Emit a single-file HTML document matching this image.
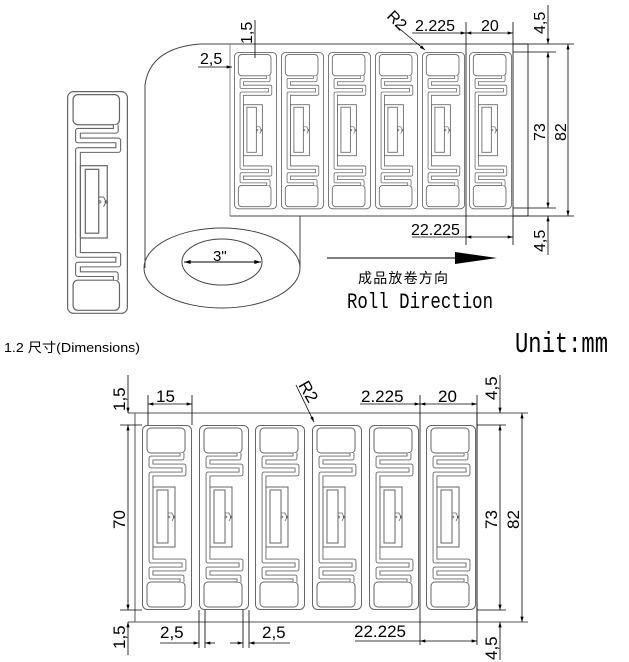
<!DOCTYPE html>
<html><head><meta charset="utf-8"><style>html,body{margin:0;padding:0;background:#fff}svg{display:block}</style></head>
<body>
<svg width="629" height="662" viewBox="0 0 629 662" xmlns="http://www.w3.org/2000/svg" font-family="Liberation Sans, sans-serif">
<defs>
<g id="lab">
  <rect x="0.5" y="0.5" width="49" height="184" rx="5" fill="none" stroke="#666" stroke-width="1"/>
  <rect x="5" y="3" width="38" height="25" rx="4" fill="none" stroke="#666" stroke-width="1"/>
  <rect x="5" y="157" width="38" height="25" rx="4" fill="none" stroke="#666" stroke-width="1"/>
  <path d="M40,28 V33 H9 V41 H42 V49 H9 V136 H42 V144 H9 V152 H40 V157" fill="none" stroke="#666" stroke-width="4.8" stroke-linejoin="round"/>
  <path d="M40,28 V33 H9 V41 H42 V49 H9 V136 H42 V144 H9 V152 H40 V157" fill="none" stroke="#fff" stroke-width="3" stroke-linejoin="round"/>
  <rect x="11" y="62" width="22" height="60" fill="#fff" stroke="#666" stroke-width="1"/>
  <rect x="15" y="65" width="11" height="53" fill="none" stroke="#666" stroke-width="1"/>
  <path d="M26,88 L30,88 L32,92 L30,96" fill="none" stroke="#666" stroke-width="0.8"/>
  <circle cx="27" cy="92" r="0.9" fill="none" stroke="#555" stroke-width="0.6"/>
  <circle cx="32" cy="92" r="0.9" fill="none" stroke="#555" stroke-width="0.6"/>
</g>
<marker id="a" viewBox="0 0 10 6" refX="10" refY="3" markerWidth="8" markerHeight="4" orient="auto-start-reverse"><path d="M0,0 L10,3 L0,6z" fill="#000"/></marker>
</defs>

<use href="#lab" transform="translate(67,91) scale(1.22,1.205)"/>

<g fill="none" stroke="#444" stroke-width="1">
  <path d="M145,268 V85 Q150,48 200,44 H528"/>
  <line x1="230" y1="216" x2="528" y2="216"/>
  <line x1="300" y1="216" x2="300" y2="268"/>
  <ellipse cx="222" cy="268" rx="78" ry="40"/>
  <ellipse cx="222" cy="262" rx="40" ry="23"/>
  <line x1="230" y1="44" x2="230" y2="216" stroke="#888"/>
</g>
<line x1="184" y1="262" x2="261" y2="262" stroke="#000" marker-start="url(#a)" marker-end="url(#a)"/>
<text x="213" y="261" font-size="15">3"</text>

<use href="#lab" transform="translate(234,52) scale(0.86,0.85)"/>
<use href="#lab" transform="translate(281,52) scale(0.86,0.85)"/>
<use href="#lab" transform="translate(328,52) scale(0.86,0.85)"/>
<use href="#lab" transform="translate(375,52) scale(0.86,0.85)"/>
<use href="#lab" transform="translate(422,52) scale(0.86,0.85)"/>
<use href="#lab" transform="translate(469,52) scale(0.86,0.85)"/>

<g stroke="#000" stroke-width="0.8" fill="none">
  <line x1="255" y1="20" x2="255" y2="58"/>
  <line x1="198" y1="67" x2="232" y2="67" marker-end="url(#a)"/>
  <line x1="395" y1="25" x2="425" y2="50" marker-end="url(#a)"/>
  <line x1="412" y1="33" x2="466" y2="33" marker-end="url(#a)"/>
  <line x1="466" y1="33" x2="513" y2="33" marker-start="url(#a)" marker-end="url(#a)"/>
  <line x1="466" y1="22" x2="466" y2="245"/>
  <line x1="513" y1="22" x2="513" y2="245"/>
  <line x1="528" y1="44" x2="528" y2="216"/>
  <line x1="548" y1="5" x2="548" y2="44" marker-end="url(#a)"/>
  <line x1="548" y1="52" x2="548" y2="208" marker-start="url(#a)" marker-end="url(#a)"/>
  <line x1="548" y1="216" x2="548" y2="255" marker-start="url(#a)"/>
  <line x1="568" y1="44" x2="568" y2="216" marker-start="url(#a)" marker-end="url(#a)"/>
  <line x1="513" y1="44" x2="574" y2="44"/>
  <line x1="513" y1="52" x2="556" y2="52"/>
  <line x1="513" y1="208" x2="556" y2="208"/>
  <line x1="513" y1="216" x2="574" y2="216"/>
  <line x1="412" y1="237" x2="466" y2="237"/>
  <line x1="466" y1="237" x2="513" y2="237" marker-start="url(#a)" marker-end="url(#a)"/>
</g>
<g font-size="16">
  <text transform="translate(252,44) rotate(-90)">1,5</text>
  <text x="200" y="64">2,5</text>
  <text transform="translate(386,17) rotate(45)">R2</text>
  <text x="415" y="31">2.225</text>
  <text x="481" y="31">20</text>
  <text transform="translate(545,34) rotate(-90)">4,5</text>
  <text transform="translate(545,141) rotate(-90)">73</text>
  <text transform="translate(566,141) rotate(-90)">82</text>
  <text x="411" y="235">22.225</text>
  <text transform="translate(545,252) rotate(-90)">4,5</text>
</g>

<line x1="327" y1="258" x2="456" y2="258" stroke="#000" stroke-width="1"/>
<path d="M455,252 L497,258 L455,264z" fill="#000"/>
<text x="358" y="283" font-size="14" font-family="Noto Sans CJK SC, sans-serif" textLength="90">成品放卷方向</text>
<text transform="translate(347,308) scale(1,1.15)" font-size="19" font-family="Liberation Mono, monospace" textLength="146" lengthAdjust="spacingAndGlyphs">Roll Direction</text>
<text transform="translate(515,352) scale(1,1.15)" font-size="25" font-family="Liberation Mono, monospace" textLength="93" lengthAdjust="spacingAndGlyphs">Unit:mm</text>
<text x="4" y="352" font-size="13" font-family="Liberation Sans, Noto Sans CJK SC, sans-serif" textLength="136" lengthAdjust="spacingAndGlyphs">1.2 尺寸(Dimensions)</text>

<g fill="none" stroke="#555" stroke-width="1">
  <line x1="128" y1="413" x2="528" y2="413"/>
  <line x1="128" y1="622" x2="528" y2="622"/>
  <line x1="135" y1="413" x2="135" y2="622"/>
  <line x1="477" y1="413" x2="477" y2="622"/>
</g>
<use href="#lab" transform="translate(142,425)"/>
<use href="#lab" transform="translate(199,425)"/>
<use href="#lab" transform="translate(255,425)"/>
<use href="#lab" transform="translate(312,425)"/>
<use href="#lab" transform="translate(369,425)"/>
<use href="#lab" transform="translate(426,425)"/>

<g stroke="#000" stroke-width="0.8" fill="none">
  <line x1="128" y1="375" x2="128" y2="413" marker-end="url(#a)"/>
  <line x1="128" y1="425" x2="128" y2="610" marker-start="url(#a)" marker-end="url(#a)"/>
  <line x1="128" y1="622" x2="128" y2="655" marker-start="url(#a)"/>
  <line x1="120" y1="425" x2="142" y2="425"/>
  <line x1="120" y1="610" x2="142" y2="610"/>
  <line x1="148" y1="395" x2="148" y2="425"/>
  <line x1="192" y1="395" x2="192" y2="425"/>
  <line x1="148" y1="404" x2="192" y2="404" marker-start="url(#a)" marker-end="url(#a)"/>
  <line x1="296" y1="385" x2="314" y2="422" marker-end="url(#a)"/>
  <line x1="360" y1="404" x2="420" y2="404" marker-end="url(#a)"/>
  <line x1="420" y1="404" x2="477" y2="404" marker-start="url(#a)" marker-end="url(#a)"/>
  <line x1="420" y1="395" x2="420" y2="645"/>
  <line x1="477" y1="395" x2="477" y2="645"/>
  <line x1="500" y1="375" x2="500" y2="413" marker-end="url(#a)"/>
  <line x1="500" y1="425" x2="500" y2="610" marker-start="url(#a)" marker-end="url(#a)"/>
  <line x1="500" y1="622" x2="500" y2="660" marker-start="url(#a)"/>
  <line x1="522" y1="413" x2="522" y2="622" marker-start="url(#a)" marker-end="url(#a)"/>
  <line x1="477" y1="425" x2="506" y2="425"/>
  <line x1="477" y1="610" x2="506" y2="610"/>
  <line x1="199" y1="610" x2="199" y2="648"/>
  <line x1="205" y1="610" x2="205" y2="648"/>
  <line x1="243" y1="610" x2="243" y2="648"/>
  <line x1="249" y1="610" x2="249" y2="648"/>
  <line x1="160" y1="643" x2="199" y2="643" marker-end="url(#a)"/>
  <line x1="205" y1="643" x2="215" y2="643" marker-start="url(#a)"/>
  <line x1="230" y1="643" x2="243" y2="643" marker-end="url(#a)"/>
  <line x1="249" y1="643" x2="290" y2="643" marker-start="url(#a)"/>
  <line x1="355" y1="641" x2="420" y2="641"/>
  <line x1="420" y1="641" x2="477" y2="641" marker-start="url(#a)" marker-end="url(#a)"/>
</g>
<g font-size="17">
  <text transform="translate(125,411) rotate(-90)">1,5</text>
  <text x="156" y="402">15</text>
  <text transform="translate(298,385) rotate(60)">R2</text>
  <text x="361" y="402">2.225</text>
  <text x="438" y="402">20</text>
  <text transform="translate(497,400) rotate(-90)">4,5</text>
  <text transform="translate(125,529) rotate(-90)">70</text>
  <text transform="translate(497,529) rotate(-90)">73</text>
  <text transform="translate(519,529) rotate(-90)">82</text>
  <text transform="translate(125,649) rotate(-90)">1,5</text>
  <text x="160" y="638">2,5</text>
  <text x="262" y="638">2,5</text>
  <text x="354" y="637">22.225</text>
  <text transform="translate(497,660) rotate(-90)">4,5</text>
</g>
</svg>
</body></html>
